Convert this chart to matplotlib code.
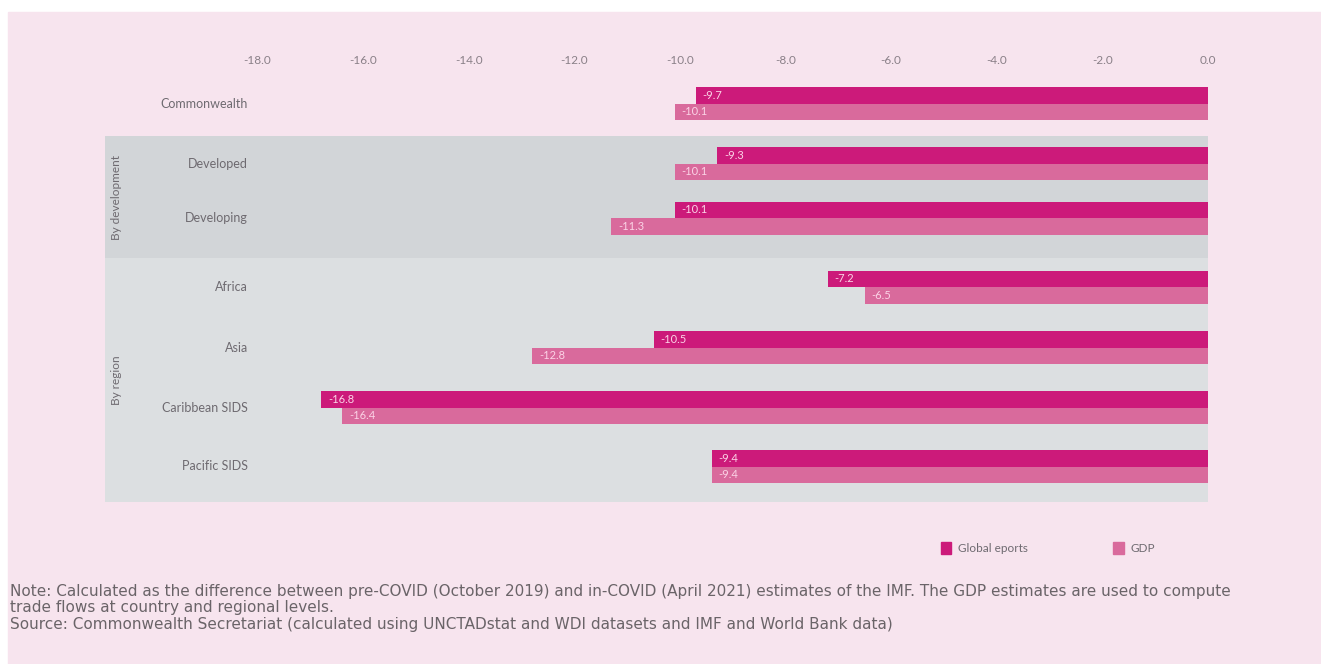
import matplotlib.pyplot as plt
from matplotlib.patches import Rectangle, Patch
from matplotlib.transforms import blended_transform_factory

plt.rcParams["font.family"] = ["Lato", "DejaVu Sans"]

categories = ["Commonwealth", "Developed", "Developing", "Africa", "Asia",
              "Caribbean SIDS", "Pacific SIDS"]
global_exports = [-9.7, -9.3, -10.1, -7.2, -10.5, -16.8, -9.4]
gdp = [-10.1, -10.1, -11.3, -6.5, -12.8, -16.4, -9.4]
ticks = [-18, -16, -14, -12, -10, -8, -6, -4, -2, 0]

# row centres in pixel rows of the page (layout only)
row_y = [103.5, 163.5, 218, 287, 347.5, 407.5, 466.5]
bar_h = 16.5

W, H = 1321, 664
fig = plt.figure(figsize=(W / 100, H / 100), dpi=100, facecolor="white")
fig.patches.append(Rectangle((8 / W, 0), 1, 1 - 12 / H, transform=fig.transFigure,
                             color="#f7e4ee", zorder=-10))

top_px, bot_px = 70, 502
left_px, right_px = 105, 1208
ax = fig.add_axes([left_px / W, 1 - bot_px / H, (right_px - left_px) / W,
                   (bot_px - top_px) / H])
ax.set_facecolor("none")
ax.set_ylim(bot_px, top_px)
ax.set_xlim(-(right_px - left_px) / 52.8, 0)

# bands
ax.axhspan(136, 258, color="#d2d5d8", zorder=0, lw=0)
ax.axhspan(258, 502, color="#dcdfe1", zorder=0, lw=0)

c_exp = "#cc1a7a"
c_gdp = "#d96a9c"
y_exp = [y - bar_h / 2 for y in row_y]
y_gdp = [y + bar_h / 2 for y in row_y]
b1 = ax.barh(y_exp, global_exports, height=bar_h, color=c_exp, zorder=2)
b2 = ax.barh(y_gdp, gdp, height=bar_h, color=c_gdp, zorder=2)

for ys, vals in [(y_exp, global_exports), (y_gdp, gdp)]:
    for y, v in zip(ys, vals):
        ax.annotate(f"{v:.1f}", xy=(v, y), xytext=(5, 0), textcoords="offset points",
                    ha="left", va="center", fontsize=8, color="#fbd3e6", zorder=3)

ax.xaxis.tick_top()
ax.set_xticks(ticks)
ax.set_xticklabels([f"{t:.1f}" for t in ticks], fontsize=8.5, color="#8a8088")
ax.tick_params(axis="x", length=0, pad=3)
ax.set_yticks([])
for s in ax.spines.values():
    s.set_visible(False)

tr = blended_transform_factory(ax.transAxes, ax.transData)
lab_x = (248 - left_px) / (right_px - left_px)
for y, c in zip(row_y, categories):
    ax.text(lab_x, y, c, transform=tr, ha="right", va="center",
            fontsize=9, color="#6e6a70")

grp_x = (117 - left_px) / (right_px - left_px)
ax.text(grp_x, 197, "By development", transform=tr, rotation=90,
        ha="center", va="center", fontsize=8.5, color="#6e6a70")
ax.text(grp_x, 380, "By region", transform=tr, rotation=90,
        ha="center", va="center", fontsize=8.5, color="#6e6a70")

handles = [Patch(color=c_exp), Patch(color=c_gdp)]
fig.legend(handles, ["Global eports", "GDP"], ncol=2, frameon=False,
           loc="center left", bbox_to_anchor=(930 / W, 1 - 548 / H),
           handlelength=0.9, handleheight=1.2, handletextpad=0.6,
           columnspacing=7.2, fontsize=8.5, labelcolor="#6e6a70")

note = ("Note: Calculated as the difference between pre-COVID (October 2019) and in-COVID "
        "(April 2021) estimates of the IMF. The GDP estimates are used to compute\n"
        "trade flows at country and regional levels.\n"
        "Source: Commonwealth Secretariat (calculated using UNCTADstat and WDI datasets "
        "and IMF and World Bank data)")
fig.text(10 / W, 1 - 584 / H, note, ha="left", va="top", fontsize=11,
         family=["DejaVu Sans"], color="#6a6468", linespacing=1.12)

fig.savefig("out.png", dpi=100, facecolor=fig.get_facecolor())
